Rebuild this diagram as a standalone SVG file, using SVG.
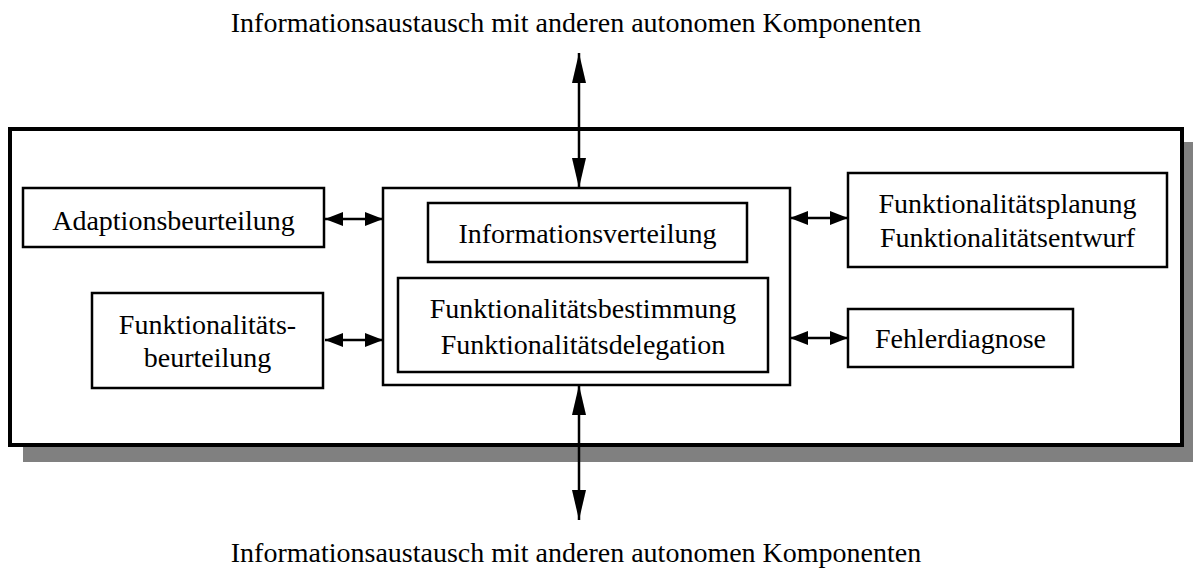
<svg xmlns="http://www.w3.org/2000/svg" width="1193" height="572" viewBox="0 0 1193 572">
  <style>
    .lbl { font-family: "Liberation Serif", "Times New Roman", serif; font-size: 28px; fill: #000; text-anchor: middle; }
    .box { fill: #fff; stroke: #000; stroke-width: 2.5; }
    .link { stroke: #000; stroke-width: 2.5; fill: none; }
  </style>
  <defs>
    <!-- short heads for the side links, long heads for the vertical exchange links -->
    <marker id="headS" markerUnits="userSpaceOnUse" markerWidth="20" markerHeight="14" refX="18" refY="7" orient="auto-start-reverse">
      <path d="M0,0 L18,7 L0,14 Z" fill="#000"/>
    </marker>
    <marker id="headL" markerUnits="userSpaceOnUse" markerWidth="30" markerHeight="14" refX="30" refY="7" orient="auto-start-reverse">
      <path d="M0,0 L30,7 L0,14 Z" fill="#000"/>
    </marker>
  </defs>

  <rect width="1193" height="572" fill="#fff"/>

  <!-- component frame with drop shadow -->
  <g id="component">
    <rect x="23" y="142" width="1175" height="320" fill="#808080"/>
    <rect x="10" y="129" width="1172" height="316" fill="#fff" stroke="#000" stroke-width="4"/>
  </g>

  <!-- external labels -->
  <g id="label-top">
    <text class="lbl" x="576" y="32">Informationsaustausch mit anderen autonomen Komponenten</text>
  </g>
  <g id="label-bottom">
    <text class="lbl" x="576" y="562">Informationsaustausch mit anderen autonomen Komponenten</text>
  </g>

  <g id="connectors">
    <line class="link" x1="579" y1="53" x2="579" y2="188" marker-start="url(#headL)" marker-end="url(#headL)"/>
    <line class="link" x1="579" y1="385" x2="579" y2="520" marker-start="url(#headL)" marker-end="url(#headL)"/>
    <line class="link" x1="325" y1="219" x2="383" y2="219" marker-start="url(#headS)" marker-end="url(#headS)"/>
    <line class="link" x1="325" y1="340" x2="383" y2="340" marker-start="url(#headS)" marker-end="url(#headS)"/>
    <line class="link" x1="790" y1="218" x2="848" y2="218" marker-start="url(#headS)" marker-end="url(#headS)"/>
    <line class="link" x1="790" y1="338" x2="848" y2="338" marker-start="url(#headS)" marker-end="url(#headS)"/>
  </g>

  <g id="adaptionsbeurteilung">
    <rect class="box" x="23" y="188" width="301" height="59"/>
    <text class="lbl" x="173.5" y="230">Adaptionsbeurteilung</text>
  </g>

  <g id="funktionalitaetsbeurteilung">
    <rect class="box" x="92" y="293" width="231" height="95"/>
    <text class="lbl" x="207.5" y="334">Funktionalitäts-</text>
    <text class="lbl" x="207.5" y="367">beurteilung</text>
  </g>

  <g id="kern">
    <rect class="box" x="383" y="188" width="407" height="197"/>
  </g>

  <g id="informationsverteilung">
    <rect class="box" x="428" y="203" width="319" height="59"/>
    <text class="lbl" x="587.5" y="243">Informationsverteilung</text>
  </g>

  <g id="funktionalitaetsbestimmung">
    <rect class="box" x="398" y="278" width="370" height="94"/>
    <text class="lbl" x="583" y="318">Funktionalitätsbestimmung</text>
    <text class="lbl" x="583" y="354">Funktionalitätsdelegation</text>
  </g>

  <g id="funktionalitaetsplanung">
    <rect class="box" x="848" y="173" width="319" height="94"/>
    <text class="lbl" x="1007.5" y="213">Funktionalitätsplanung</text>
    <text class="lbl" x="1007.5" y="247">Funktionalitätsentwurf</text>
  </g>

  <g id="fehlerdiagnose">
    <rect class="box" x="848" y="309" width="225" height="58"/>
    <text class="lbl" x="960.5" y="348">Fehlerdiagnose</text>
  </g>
</svg>
